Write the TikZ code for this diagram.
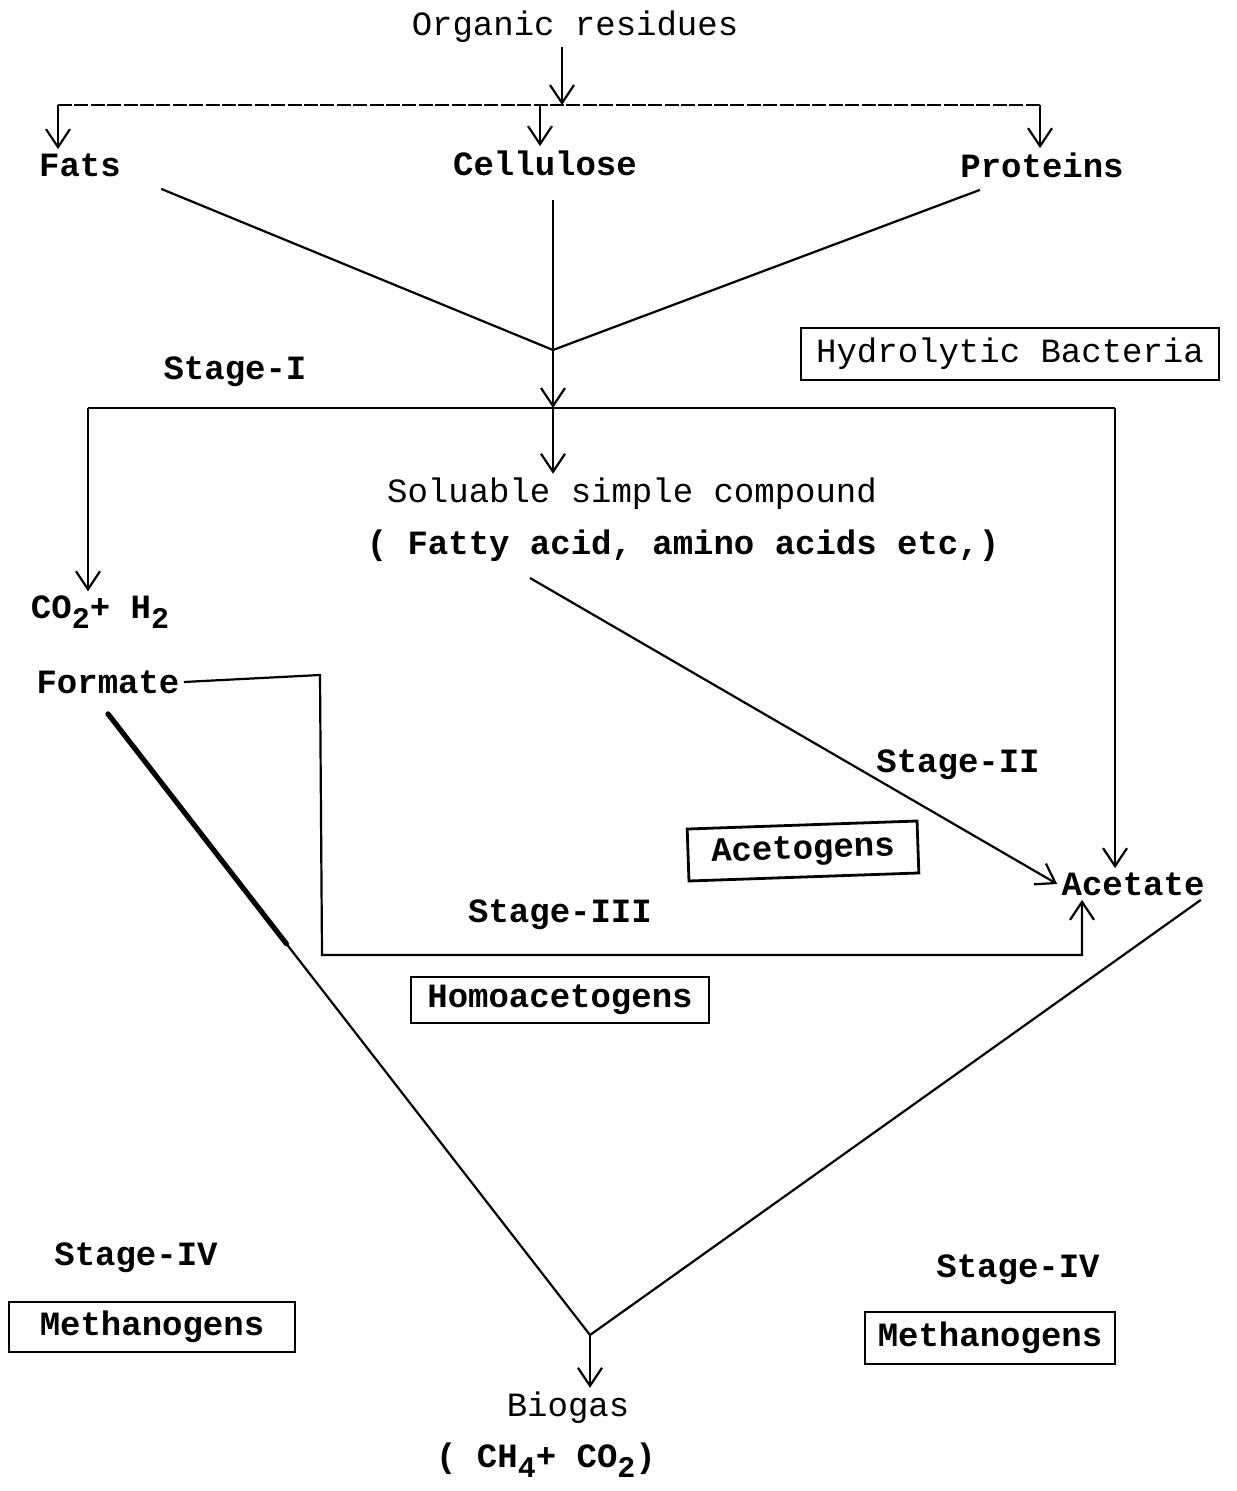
\documentclass[tikz,border=0pt]{standalone}
\usepackage{fontspec}
\setmonofont{Liberation Mono}
\usepackage{tikz}
\usetikzlibrary{arrows.meta,positioning}
\newcommand{\lowsub}[1]{\raisebox{-0.55ex}{\fontsize{15}{15}\selectfont #1}}
\tikzset{
  txt/.style={
    font=\ttfamily\fontsize{17}{20}\selectfont,
    inner sep=2pt
  },
  boldtxt/.style={
    txt,
    font=\ttfamily\bfseries\fontsize{17}{20}\selectfont
  },
  bacbox/.style={
    rectangle,
    draw=black,
    line width=1.4pt,
    inner sep=3pt,
    align=center,
    font=\ttfamily\bfseries\fontsize{17}{20}\selectfont
  },
  flow/.style={line width=1.1pt, draw=black},
  typed/.style={flow, dash pattern=on 7pt off 1.2pt},
  arrow/.style={flow, -{Straight Barb[length=9pt,width=12pt]}}
}

\begin{document}
\begin{tikzpicture}[x=0.5pt,y=-0.5pt]
\useasboundingbox (0,0) rectangle (1236,1491);

% substrates
\node[txt] (organic) at (575,27) {Organic residues};
\node[boldtxt] (fats) at (80,165) {Fats};
\node[boldtxt] (cellulose) at (545,163) {Cellulose};
\node[boldtxt] (proteins) at (1042,165) {Proteins};

% stage I
\node[boldtxt] (stageone) at (235,372) {Stage-I};
\node[bacbox, font=\ttfamily\fontsize{17}{20}\selectfont, minimum width=209pt, minimum height=26pt] (hydro) at (1010,354) {Hydrolytic Bacteria};
\node[txt] (soluble) at (632,494) {Soluable simple compound};
\node[boldtxt] (fatty) at (683,546) {( Fatty acid, amino acids etc,)};

% stage II and III
\node[boldtxt] (co2) at (100,612) {CO\lowsub{2}+ H\lowsub{2}};
\node[boldtxt] (formate) at (108,682) {Formate};
\node[boldtxt] (stagetwo) at (958,765) {Stage-II};
\node[bacbox, minimum width=115pt, minimum height=26pt, rotate=2] (acetogens) at (803,851) {Acetogens};
\node[boldtxt] (acetate) at (1133,884) {Acetate};
\node[boldtxt] (stagethree) at (560,915) {Stage-III};
\node[bacbox, minimum width=149pt, minimum height=23pt] (homo) at (560,1000) {Homoacetogens};

% stage IV
\node[boldtxt] (stagefourl) at (136,1258) {Stage-IV};
\node[bacbox, minimum width=143pt, minimum height=25pt] (methl) at (152,1327) {Methanogens};
\node[boldtxt] (stagefourr) at (1018,1270) {Stage-IV};
\node[bacbox, minimum width=125pt, minimum height=26pt] (methr) at (990,1338) {Methanogens};
\node[txt] (biogas) at (568,1408) {Biogas};
\node[boldtxt] (gases) at (546,1460) {( CH\lowsub{4}+ CO\lowsub{2})};

% junctions
\coordinate (split) at (562,105);
\coordinate (fatsdrop) at (58,105);
\coordinate (celdrop) at (540,105);
\coordinate (protdrop) at (1040,105);
\coordinate (merge) at (553,350);
\coordinate (hub) at (553,408);
\coordinate (leftcorner) at (88,408);
\coordinate (rightcorner) at (1115,408);
\coordinate (solstart) at (530,578);
\coordinate (homotop) at (320,675);
\coordinate (homocorner) at (322,955);
\coordinate (homoend) at (1082,955);
\coordinate (bottom) at (590,1335);

\draw[arrow] (organic.south -| split) -- (split);
\draw[typed] (fatsdrop) -- (protdrop);
\draw[arrow] (fatsdrop) -- (fatsdrop |- fats.north);
\draw[arrow] (celdrop) -- (celdrop |- cellulose.north);
\draw[arrow] (protdrop) -- (protdrop |- proteins.north);

\draw[flow] ([xshift=18pt,yshift=-4pt]fats.south east) -- (merge);
\draw[flow] ([xshift=12pt,yshift=-4pt]proteins.south west) -- (merge);
\draw[arrow] ([yshift=-10pt]hub |- cellulose.south) -- (hub);
\draw[arrow] (hub) -- (hub |- soluble.north);

\draw[flow] (leftcorner) -- (rightcorner);
\draw[arrow] (leftcorner) -- (leftcorner |- co2.north);
\draw[arrow] (rightcorner) -- (rightcorner |- acetate.north);
\draw[arrow] (solstart) -- (acetate.west);

\draw[arrow] (formate.east) -- (homotop) -- (homocorner) -- (homoend) -- (homoend |- acetate.south);

\path ([yshift=-8pt]formate.south) -- (bottom) coordinate[pos=0.37] (thickend);
\draw[flow] ([yshift=-8pt]formate.south) -- (bottom);
\draw[line width=2.6pt, line cap=round] ([yshift=-8pt]formate.south) -- (thickend);
\draw[flow] ([xshift=-4pt]acetate.south east) -- (bottom);
\draw[arrow] (bottom) -- (bottom |- biogas.north);

\end{tikzpicture}
\end{document}
